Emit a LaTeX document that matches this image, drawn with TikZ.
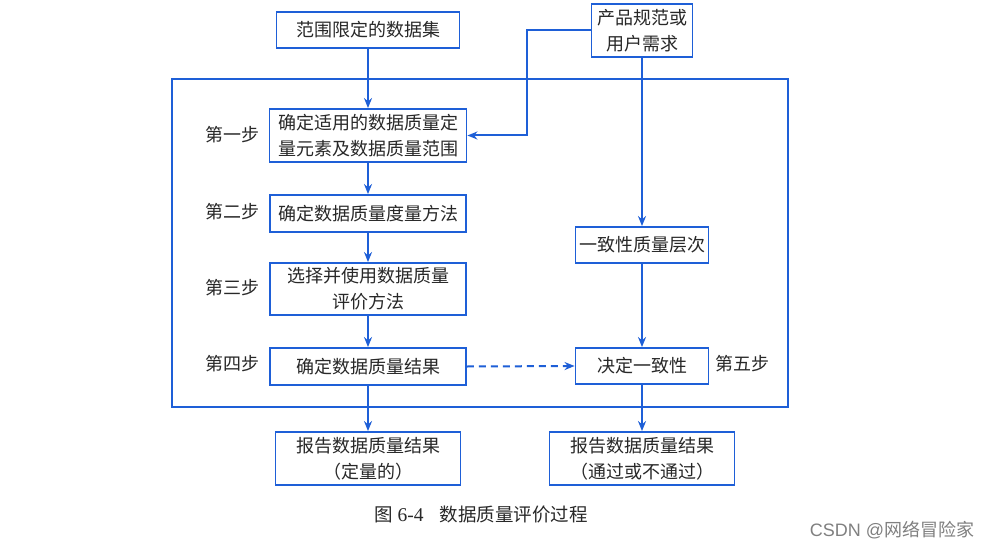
\documentclass[tikz,border=0pt]{standalone}
\usepackage{fontspec}
\setmainfont{Liberation Serif}
\newfontfamily\cjk{Noto Sans CJK SC}
\newfontfamily\wmfont{Liberation Sans}
\usetikzlibrary{arrows.meta}
\definecolor{lineblue}{RGB}{30,95,215}
\definecolor{txt}{RGB}{40,40,40}
\begin{document}
\begin{tikzpicture}[x=1pt,y=-1pt,
  box/.style={draw=lineblue,line width=1.9pt,rectangle,inner sep=0pt,align=center,
    text=txt,font=\cjk\fontsize{18}{26}\selectfont},
  lbl/.style={text=txt,font=\cjk\fontsize{18}{26}\selectfont,inner sep=0pt},
  conn/.style={draw=lineblue,line width=2pt,-{Stealth[length=10pt,width=8pt]}}]
\useasboundingbox[fill=white] (0,0) rectangle (992,548);
\draw[lineblue,line width=1.8pt] (172,79) rectangle (788,407);
\node[box,minimum width=183pt,minimum height=36pt] (A) at (368,30) {范围限定的数据集};
\node[box,minimum width=101pt,minimum height=53pt] (B) at (642,30.5) {产品规范或\\用户需求};
\node[box,minimum width=197pt,minimum height=53pt] (C1) at (368,135.5) {确定适用的数据质量定\\量元素及数据质量范围};
\node[box,minimum width=196pt,minimum height=37pt] (C2) at (368,213.5) {确定数据质量度量方法};
\node[box,minimum width=196pt,minimum height=52pt] (C3) at (368,289) {选择并使用数据质量\\评价方法};
\node[box,minimum width=196pt,minimum height=37pt] (C4) at (368,366.5) {确定数据质量结果};
\node[box,minimum width=133pt,minimum height=36pt] (R1) at (642,245) {一致性质量层次};
\node[box,minimum width=133pt,minimum height=36pt] (R2) at (642,366) {决定一致性};
\node[box,minimum width=185pt,minimum height=53pt] (L) at (368,458.5) {报告数据质量结果\\（定量的）};
\node[box,minimum width=185pt,minimum height=53pt] (RR) at (642,458.5) {报告数据质量结果\\（通过或不通过）};
\node[lbl] (s1) at (232,135) {第一步};
\node[lbl] (s2) at (232,212) {第二步};
\node[lbl] (s3) at (232,288) {第三步};
\node[lbl] (s4) at (232,364) {第四步};
\node[lbl] (s5) at (742,364) {第五步};
\node[text=txt,inner sep=0pt] (cap) at (481,515) {{\cjk\fontsize{18.5}{20}\selectfont 图}\fontsize{19.5}{20}\selectfont\ 6-4\hspace{16pt}{\cjk\fontsize{18.5}{20}\selectfont 数据质量评价过程}};
\node[text=black!50,inner sep=0pt] (wm) at (892,530) {\wmfont\fontsize{18}{20}\selectfont CSDN @{\cjk 网络冒险家}};
\coordinate (k) at (527,0);
\draw[conn] (A) -- (C1);
\draw[conn] (B.west) -| (k |- C1.east) -- (C1.east);
\draw[conn] (B) -- (R1);
\draw[conn] (R1) -- (R2);
\draw[conn] (C1) -- (C2);
\draw[conn] (C2) -- (C3);
\draw[conn] (C3) -- (C4);
\draw[conn] (C4) -- (L);
\draw[conn] (R2) -- (RR);
\draw[conn,dashed,dash pattern=on 7pt off 5pt] (C4.east) -- (R2.west);
\end{tikzpicture}
\end{document}
